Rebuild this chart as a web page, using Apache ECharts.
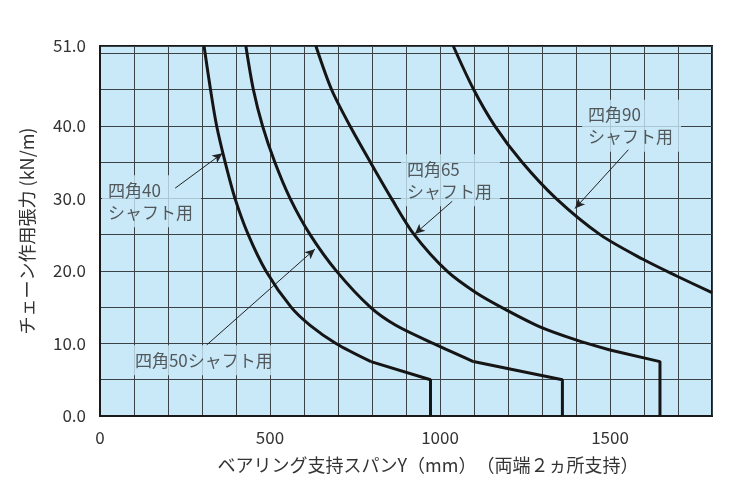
<!DOCTYPE html>
<html><head><meta charset="utf-8">
<script src="https://cdn.jsdelivr.net/npm/echarts@6/dist/echarts.min.js"></script>
<style>html,body{margin:0;padding:0;background:#fff}#c{width:733px;height:497px}</style>
</head><body><div id="c"></div>
<script>
// bearing span (mm) vs chain tension (kN/m)
const curve40 = [[306,51],[325,45],[343,40],[368,35],[397,30],[436,25],[488,20],[562,15],[618,12.5],[694,10],[797,7.5]];
const tail40  = [[797,7.5],[972,5.0],[972,0]];
const curve50 = [[429,51],[451,45],[478,40],[514,35],[559,30],[618,25],[695,20],[795,15],[870,12.5],[980,10],[1098,7.5]];
const tail50  = [[1098,7.5],[1360,5.0],[1360,0]];
const curve65 = [[635,51],[681,45],[735,40],[795,35],[857,30],[924,25],[1020,20],[1106,17],[1196,14.6],[1294,12.3],[1400,10.5],[1500,9.1]];
const tail65  = [[1500,9.1],[1647,7.5],[1647,0]];
const curve90 = [[1039,51],[1099,45],[1161,40],[1241,35],[1341,30],[1471,25],[1597,21.6],[1696,19.3],[1800,17.0]];

const yTickLabels = [0,10,20,30,40,51];
const xTickLabels = [0,500,1000,1500];

const labelTexts   = ['四角40\nシャフト用','四角50シャフト用','四角65\nシャフト用','四角90\nシャフト用'];
const labelAnchors = [[6,29.6],[85,7.7],[885,32.5],[1418,40.0]];
const arrowTails   = [[221,31.4],[314,9.8],[1036,29.6],[1554,36.7]];
const arrowTips    = [[360,36.2],[632,23.0],[926,25.1],[1397,28.6]];

const BG = '#c9e8f8';
const INK = '#333';
const FONT = '"Noto Sans CJK JP", "Noto Sans", sans-serif';

const curveStyle = {color:'#151515', width:3};
function curve(data){ return {type:'line', data, smooth:0.3, showSymbol:false, lineStyle:curveStyle, z:5, silent:true}; }
function tail(data){ return {type:'line', data, smooth:false, showSymbol:false, lineStyle:curveStyle, z:5, silent:true}; }

const chart = echarts.init(document.getElementById('c'), null, {renderer:'canvas'});
chart.setOption({
  animation:false,
  backgroundColor:'#fff',
  grid:{left:100, right:21, top:46, bottom:81, show:true, backgroundColor:BG, borderColor:'#1a1a1a', borderWidth:2},
  xAxis:{type:'value', min:0, max:1800, interval:100,
    axisLine:{show:true, lineStyle:{color:'#1a1a1a', width:2}}, axisTick:{show:false},
    splitLine:{show:true, lineStyle:{color:'#3a4246', width:1}},
    axisLabel:{color:INK, fontFamily:FONT, fontSize:17, margin:13,
      formatter:v=> xTickLabels.includes(v) ? String(v) : ''},
    name:'ベアリング支持スパンY（mm）　（両端２ヵ所支持）', nameLocation:'middle', nameGap:40,
    nameTextStyle:{color:INK, fontFamily:FONT, fontSize:18, padding:[0,0,0,44]}},
  yAxis:{type:'value', min:0, max:51, interval:5,
    axisLine:{show:true, lineStyle:{color:'#1a1a1a', width:2}}, axisTick:{show:false},
    splitLine:{show:true, lineStyle:{color:'#3a4246', width:1}},
    axisLabel:{color:INK, fontFamily:FONT, fontSize:17, margin:14, showMaxLabel:true,
      formatter:v=> yTickLabels.includes(v) ? v.toFixed(1) : ''},
    name:'チェーン作用張力 (kN/m)', nameLocation:'middle', nameGap:64, nameRotate:90,
    nameTextStyle:{color:INK, fontFamily:FONT, fontSize:18, padding:[0,0,0,0]}},
  series:[
    curve(curve40), tail(tail40),
    curve(curve50), tail(tail50),
    curve(curve65), tail(tail65),
    curve(curve90),
    {type:'scatter', z:3, silent:true, symbolSize:0,
      data: labelAnchors.map((p,i)=>({value:p, label:{formatter:labelTexts[i]}})),
      label:{show:true, position:'right', distance:0, color:INK, fontFamily:FONT, fontSize:17,
        lineHeight:22, align:'left', backgroundColor:BG, padding:[4,8,4,6]},
      markLine:{silent:true, symbol:['none','arrow'], symbolSize:[7,10],
        label:{show:false}, lineStyle:{color:'#222', width:1, type:'solid'},
        emphasis:{disabled:true},
        data: arrowTails.map((t,i)=>[{coord:t},{coord:arrowTips[i]}])}
    }
  ]
});
</script></body></html>
